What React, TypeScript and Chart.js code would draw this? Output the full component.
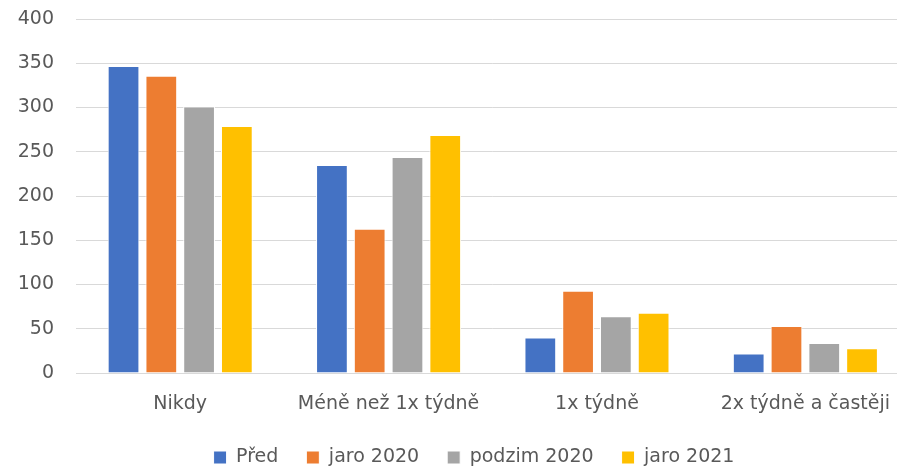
import React, { useEffect, useRef } from "react";
import { Chart, registerables } from "chart.js";

Chart.register(...registerables);

const categories = ["Nikdy", "Méně než 1x týdně", "1x týdně", "2x týdně a častěji"];
const seriesNames = ["Před", "jaro 2020", "podzim 2020", "jaro 2021"];
const pred = [347, 235, 40, 22];
const jaro2020 = [336, 163, 93, 53];
const podzim2020 = [301, 244, 64, 34];
const jaro2021 = [279, 269, 68, 28];
const colors = ["#4472C4", "#ED7D31", "#A5A5A5", "#FFC000"];
const yTicks = [0, 50, 100, 150, 200, 250, 300, 350, 400];

const legendShift = {
  id: "legendShift",
  afterLayout(chart: any) {
    if (chart.legend) {
      chart.legend.left += 19;
      chart.legend.right += 19;
    }
  },
};

export default function App() {
  const ref = useRef<HTMLCanvasElement>(null);
  useEffect(() => {
    document.body.style.margin = "0";
    const font = "DejaVu Sans, sans-serif";
    const values = [pred, jaro2020, podzim2020, jaro2021];
    const chart = new Chart(ref.current!, {
      type: "bar",
      data: {
        labels: categories,
        datasets: seriesNames.map((n, i) => ({
          label: n,
          data: values[i],
          backgroundColor: colors[i],
          borderColor: "#ffffff",
          borderWidth: 1,
          categoryPercentage: 0.725,
          barPercentage: 0.84,
        })),
      },
      plugins: [legendShift],
      options: {
        responsive: false,
        animation: false,
        layout: { padding: { top: 19, right: 0, left: 0, bottom: 0 } },
        plugins: {
          tooltip: { enabled: false },
          legend: {
            position: "bottom",
            labels: {
              font: { family: font, size: 19 },
              color: "#595959",
              boxWidth: 13,
              boxHeight: 13,
              padding: 28,
            },
          },
        },
        scales: {
          x: {
            grid: { display: false, drawTicks: false },
            border: { color: "#D9D9D9", width: 1 },
            afterFit: (s: any) => {
              s.height = 47;
            },
            ticks: { font: { family: font, size: 19 }, color: "#595959", padding: 20 },
          },
          y: {
            min: 0,
            max: 400,
            afterBuildTicks: (s: any) => {
              s.ticks = yTicks.map((v) => ({ value: v }));
            },
            afterFit: (s: any) => {
              s.width = 76;
              s.paddingTop = 0;
              s.paddingBottom = 0;
            },
            grid: { color: "#D9D9D9", drawTicks: false },
            border: { display: false },
            ticks: { font: { family: font, size: 19 }, color: "#595959", padding: 22 },
          },
        },
      },
    });
    return () => chart.destroy();
  }, []);
  return (
    <div style={{ width: 897, height: 467, overflow: "hidden" }}>
      <canvas ref={ref} width={910} height={477} style={{ display: "block" }} />
    </div>
  );
}
